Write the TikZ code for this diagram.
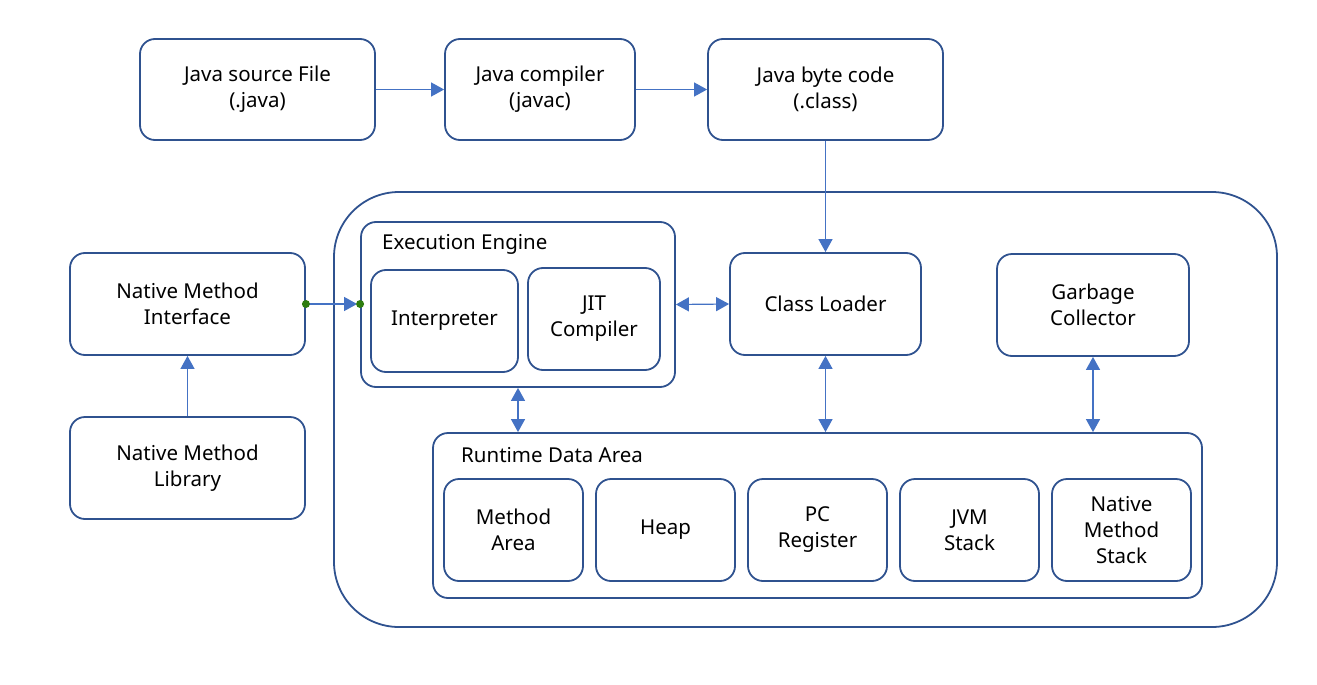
\documentclass[tikz,border=0pt]{standalone}
\usepackage{fontspec}
\setmainfont{Noto Sans}
\usetikzlibrary{arrows.meta}

\begin{document}
\begin{tikzpicture}[x=1pt,y=-1pt,
  box/.style={draw=boxblue, line width=1.8pt, rounded corners=15pt, align=center, inner sep=0pt},
  link/.style={draw=linkblue, line width=1.2pt},
  tip/.style={-{Triangle[length=13pt,width=14pt]}},
  both/.style={{Triangle[length=13pt,width=14pt]}-{Triangle[length=13pt,width=14pt]}},
  dot/.style={circle, fill=dotgreen, inner sep=0pt, minimum size=8pt}]
\definecolor{boxblue}{HTML}{2F528F}
\definecolor{linkblue}{HTML}{4472C4}
\definecolor{dotgreen}{HTML}{2E7D0F}
\useasboundingbox (0,0) rectangle (1317,685);
\fontsize{20.5}{26}\selectfont
% compile chain
\node[box, minimum width=235pt, minimum height=101pt] (src) at (257.5,89.5) {Java source File\\(.java)};
\node[box, minimum width=190pt, minimum height=101pt] (javac) at (540,89.5) {Java compiler\\(javac)};
\node[box, minimum width=235pt, minimum height=101pt] (bytecode) at (825.5,89.5) {Java byte code\\(.class)};
% jvm
\draw[draw=boxblue, line width=1.8pt, rounded corners=65pt] (334,192) rectangle (1277,627);
\node[box, minimum width=314pt, minimum height=165pt] (exec) at (518,304.5) {};
\node[anchor=west, inner sep=0pt] (execlabel) at (382,244) {Execution Engine};
\node[box, minimum width=147pt, minimum height=102pt] (interp) at (444.5,321) {Interpreter};
\node[box, minimum width=132pt, minimum height=102pt] (jit) at (594,319) {JIT\\Compiler};
\node[box, minimum width=191pt, minimum height=102pt] (loader) at (825.5,304) {Class Loader};
\node[box, minimum width=192pt, minimum height=102pt] (gc) at (1093,305) {Garbage\\Collector};
\node[box, minimum width=769pt, minimum height=165pt] (rda) at (817.5,515.5) {};
\node[anchor=west, inner sep=0pt] (rdalabel) at (461,455) {Runtime Data Area};
\node[box, minimum width=139pt, minimum height=102pt] (method) at (513.5,530) {Method\\Area};
\node[box, minimum width=139pt, minimum height=102pt] (heap) at (665.5,530) {Heap};
\node[box, minimum width=139pt, minimum height=102pt] (pc) at (817.5,530) {PC\\Register};
\node[box, minimum width=139pt, minimum height=102pt] (stack) at (969.5,530) {JVM\\Stack};
\node[box, minimum width=139pt, minimum height=102pt] (nstack) at (1121.5,530) {Native\\Method\\Stack};
% native side
\node[box, minimum width=235pt, minimum height=102pt] (nmi) at (187.5,304) {Native Method\\Interface};
\node[box, minimum width=235pt, minimum height=102pt] (nml) at (187.5,468) {Native Method\\Library};
% connectors
\draw[link, tip] (src.east) -- (javac.west);
\draw[link, tip] (javac.east) -- (bytecode.west);
\draw[link, tip] (bytecode.south) -- (loader.north);
\draw[link, both] (exec.east) -- (loader.west);
\draw[link, both] (exec.south) -- (exec.south |- rda.north);
\draw[link, both] (loader.south) -- (loader.south |- rda.north);
\draw[link, both] (gc.south) -- (gc.south |- rda.north);
\draw[link, tip] (nml.north) -- (nmi.north |- nmi.south);
\draw[link, tip, shorten >=3pt] (nmi.east) -- (nmi.east -| exec.west);
\node[dot] (dotl) at (nmi.east) {};
\node[dot] (dotr) at (nmi.east -| exec.west) {};
\end{tikzpicture}
\end{document}
